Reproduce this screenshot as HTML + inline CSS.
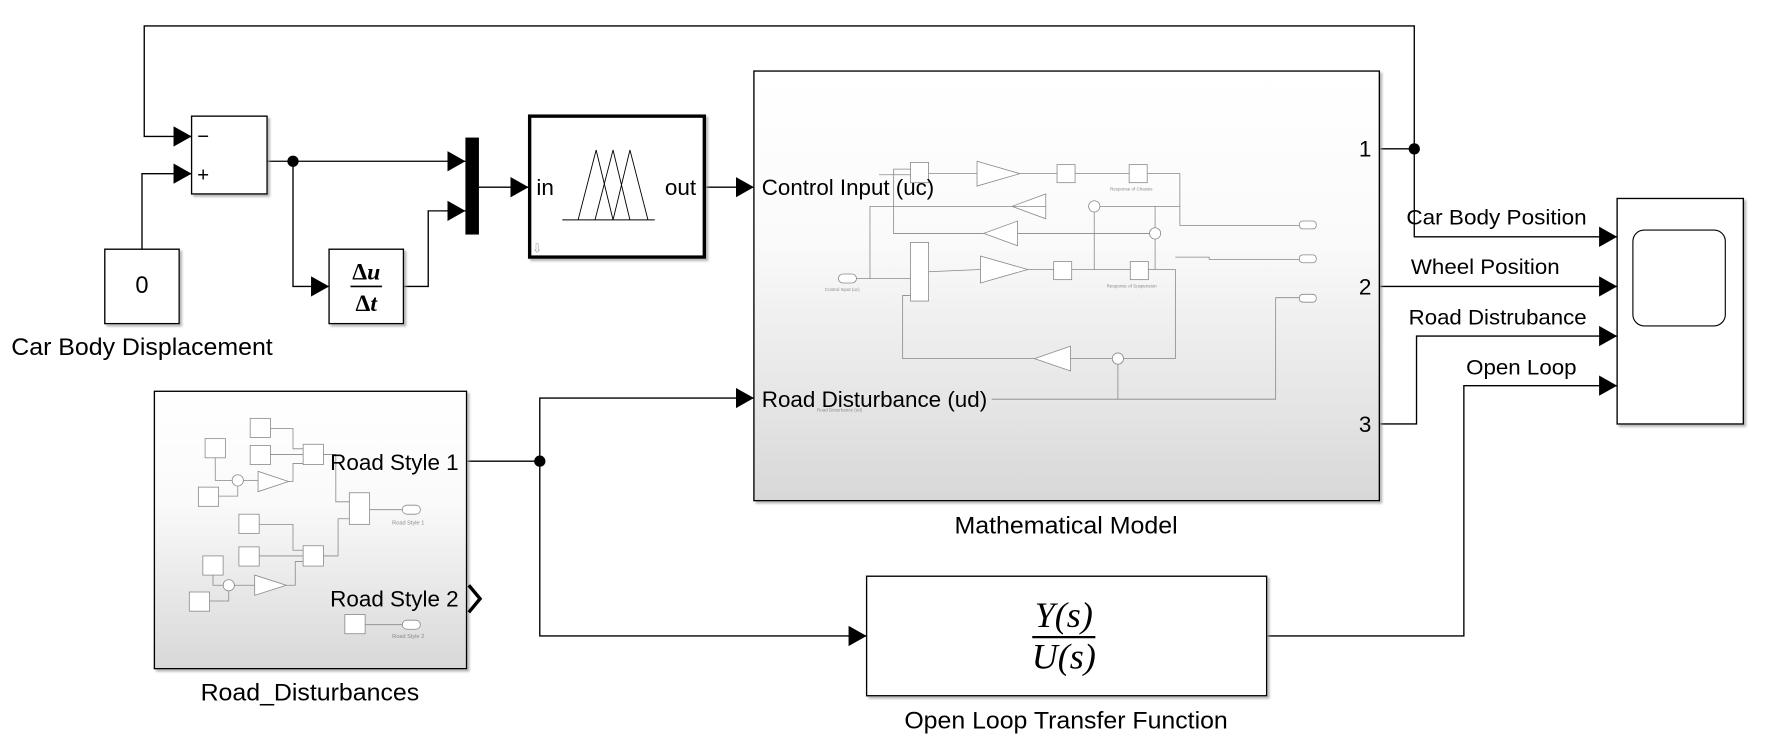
<!DOCTYPE html>
<html><head><meta charset="utf-8"><style>
html,body{margin:0;padding:0;background:#fff;}
svg{display:block;}
.s{font-family:"Liberation Sans",sans-serif;}
.r{font-family:"Liberation Serif",serif;}
</style></head><body>
<svg width="1767" height="751" viewBox="0 0 1568 666" preserveAspectRatio="none" xmlns="http://www.w3.org/2000/svg" class="s">
<defs>
<linearGradient id="g" x1="0" y1="0" x2="0" y2="1"><stop offset="0" stop-color="#fff"/><stop offset="0.4" stop-color="#fafafa"/><stop offset="1" stop-color="#d8d8d8"/></linearGradient>
<marker id="a" markerWidth="16" markerHeight="18" refX="16" refY="9" orient="auto" markerUnits="userSpaceOnUse" viewBox="0 0 16 18"><path d="M0,0 L16,9 L0,18z" fill="#000"/></marker>
<filter id="sh"><feDropShadow dx="2" dy="2" stdDeviation="1" flood-color="#999" flood-opacity="0.7"/></filter>
</defs>
<g fill="none" stroke="#000" stroke-width="1.2">
<polyline points="1255,132 1255,23 128,23 128,121 170,121" marker-end="url(#a)"/>
<polyline points="126,221 126,154 170,154" marker-end="url(#a)"/>
<polyline points="237,143 413,143" marker-end="url(#a)"/>
<polyline points="260,143 260,254 292,254" marker-end="url(#a)"/>
<polyline points="358,254 380,254 380,187 413,187" marker-end="url(#a)"/>
<polyline points="425,166 469,166" marker-end="url(#a)"/>
<polyline points="625,166 669,166" marker-end="url(#a)"/>
<polyline points="1224,132 1255,132 1255,210 1435,210" marker-end="url(#a)"/>
<polyline points="1224,254 1435,254" marker-end="url(#a)"/>
<polyline points="1224,376 1257,376 1257,298 1435,298" marker-end="url(#a)"/>
<polyline points="1124,564 1299,564 1299,342 1435,342" marker-end="url(#a)"/>
<polyline points="414,409 479,409 479,353 669,353" marker-end="url(#a)"/>
<polyline points="479,409 479,564 769,564" marker-end="url(#a)"/>
</g>
<circle cx="260" cy="143" r="5"/><circle cx="1255" cy="132" r="5"/><circle cx="479" cy="409" r="5"/>
<rect x="170" y="103" width="67" height="69" fill="#fff" stroke="#000" stroke-width="1.2" filter="url(#sh)"/>
<text x="175" y="127" font-size="18">−</text><text x="175" y="161" font-size="18">+</text>
<rect x="93" y="221" width="66" height="66" fill="#fff" stroke="#000" stroke-width="1.2" filter="url(#sh)"/>
<text x="126" y="260" font-size="21" text-anchor="middle">0</text>
<text x="126" y="315" font-size="21" text-anchor="middle" textLength="232" lengthAdjust="spacingAndGlyphs">Car Body Displacement</text>
<rect x="292" y="221" width="66" height="66" fill="#fff" stroke="#000" stroke-width="1.2" filter="url(#sh)"/>
<text class="r" x="325" y="248" font-size="21" text-anchor="middle" font-weight="bold">Δ<tspan font-style="italic">u</tspan></text>
<line x1="311" y1="254" x2="339" y2="254" stroke="#000" stroke-width="1.5"/>
<text class="r" x="325" y="276" font-size="21" text-anchor="middle" font-weight="bold">Δ<tspan font-style="italic">t</tspan></text>
<rect x="413" y="122" width="12" height="86" fill="#000"/>
<rect x="470" y="103" width="155" height="125" fill="#fff" stroke="#000" stroke-width="3" filter="url(#sh)"/>
<text x="476" y="173" font-size="20">in</text><text x="590" y="173" font-size="20">out</text>
<g fill="none" stroke="#000" stroke-width="0.8"><line x1="499" y1="195" x2="581" y2="195"/>
<polyline points="513,195 529,133 544,195"/><polyline points="528,195 544,133 559,195"/><polyline points="544,195 559,133 575,195"/></g>
<text x="472" y="224" font-size="11" fill="#aaa">⇩</text>
<rect x="669" y="63" width="555" height="381" fill="url(#g)" stroke="#000" stroke-width="1.2" filter="url(#sh)"/>
<g fill="#fff" stroke="#888" stroke-width="0.7">
<rect x="808" y="144" width="16" height="18"/><rect x="938" y="146" width="16" height="16"/><rect x="1002" y="146" width="16" height="16"/>
<polygon points="867,143 867,165 905,154"/><polygon points="928,172 928,194 898,183"/><polygon points="903,196 903,218 873,207"/>
<circle cx="971" cy="183" r="5"/><circle cx="1025" cy="207" r="5"/>
<rect x="808" y="215" width="16" height="52"/><polygon points="870,227 870,251 912,239"/><rect x="935" y="232" width="16" height="16"/><rect x="1003" y="232" width="16" height="16"/>
<polygon points="950,307 950,329 918,318"/><circle cx="992" cy="318" r="5"/>
<rect x="744" y="243" width="16" height="8" rx="4"/><rect x="1153" y="196" width="15" height="7" rx="3"/><rect x="1153" y="226" width="15" height="7" rx="3"/><rect x="1153" y="261" width="15" height="7" rx="3"/>
</g>
<g fill="none" stroke="#888" stroke-width="0.7">
<polyline points="824,154 867,154"/><polyline points="905,154 938,154"/><polyline points="954,154 1002,154"/><polyline points="1018,154 1047,154 1047,200 1153,200"/>
<polyline points="1047,183 976,183"/><polyline points="928,183 772,183 772,247"/><polyline points="1025,202 1025,183"/><polyline points="1020,207 903,207"/><polyline points="873,207 793,207 793,150 808,150"/>
<polyline points="824,241 870,239"/><polyline points="912,239 935,239"/><polyline points="951,239 1003,239"/><polyline points="1019,239 1043,239 1043,318 997,318"/>
<polyline points="987,318 950,318"/><polyline points="918,318 801,318 801,262 808,262"/><polyline points="1043,228 1073,228 1073,230 1153,230"/><polyline points="971,188 971,239"/><polyline points="1025,212 1025,239"/>
<polyline points="992,323 992,354"/><polyline points="880,354 1132,354 1132,264 1153,264"/><polyline points="760,247 808,247"/><polyline points="780,155 808,155"/>
</g>
<g font-size="4" fill="#888"><text x="732" y="258">Control Input (uc)</text><text x="985" y="169">Response of Chassis</text><text x="982" y="255">Response of Suspension</text><text x="725" y="365">Road Disturbance (ud)</text></g>
<text x="676" y="173" font-size="20" textLength="153" lengthAdjust="spacingAndGlyphs">Control Input (uc)</text>
<text x="676" y="361" font-size="20" textLength="200" lengthAdjust="spacingAndGlyphs">Road Disturbance (ud)</text>
<text x="1217" y="139" font-size="20" text-anchor="end">1</text>
<text x="1217" y="261" font-size="20" text-anchor="end">2</text>
<text x="1217" y="383" font-size="20" text-anchor="end">3</text>
<text x="946" y="473" font-size="21" text-anchor="middle" textLength="198" lengthAdjust="spacingAndGlyphs">Mathematical Model</text>
<rect x="1435" y="176" width="112" height="200" fill="#fff" stroke="#000" stroke-width="1.2" filter="url(#sh)"/>
<rect x="1449" y="204" width="82" height="85" rx="10" fill="#fff" stroke="#000" stroke-width="1"/>
<g font-size="19"><text x="1248" y="199" textLength="160" lengthAdjust="spacingAndGlyphs">Car Body Position</text><text x="1252" y="243" textLength="132" lengthAdjust="spacingAndGlyphs">Wheel Position</text><text x="1250" y="288" textLength="158" lengthAdjust="spacingAndGlyphs">Road Distrubance</text><text x="1301" y="332" textLength="98" lengthAdjust="spacingAndGlyphs">Open Loop</text></g>
<rect x="137" y="347" width="277" height="246" fill="url(#g)" stroke="#000" stroke-width="1.2" filter="url(#sh)"/>
<g fill="#fff" stroke="#888" stroke-width="0.7">
<rect x="182" y="389" width="18" height="17"/><rect x="222" y="371" width="18" height="17"/><rect x="222" y="395" width="18" height="17"/><rect x="269" y="394" width="18" height="18"/>
<rect x="176" y="432" width="18" height="17"/><circle cx="211" cy="426" r="5"/><polygon points="229,418 229,436 256,427"/><rect x="310" y="437" width="18" height="28"/>
<rect x="212" y="456" width="18" height="17"/><rect x="212" y="485" width="18" height="17"/><rect x="269" y="484" width="18" height="18"/>
<rect x="180" y="493" width="18" height="17"/><rect x="168" y="525" width="18" height="17"/><circle cx="203" cy="519" r="5"/><polygon points="226,510 226,528 254,519"/>
<rect x="306" y="545" width="18" height="17"/><rect x="357" y="448" width="16" height="8" rx="4"/><rect x="357" y="550" width="16" height="8" rx="4"/>
</g>
<g fill="none" stroke="#888" stroke-width="0.7"><polyline points="191,406 191,426 206,426"/><polyline points="194,440 211,440 211,431"/><polyline points="216,426 229,426"/><polyline points="256,427 260,427 260,411 269,411"/>
<polyline points="240,380 260,380 260,398 269,398"/><polyline points="240,403 269,403"/><polyline points="287,403 298,403 298,445 310,445"/><polyline points="328,452 357,452"/>
<polyline points="230,465 260,465 260,488 269,488"/><polyline points="230,493 269,493"/><polyline points="287,493 300,493 300,460 310,460"/><polyline points="189,510 189,519 198,519"/><polyline points="186,533 203,533 203,524"/><polyline points="208,519 226,519"/><polyline points="254,519 262,519 262,498 269,498"/><polyline points="324,554 357,554"/></g>
<g font-size="5" fill="#888"><text x="348" y="465">Road Style 1</text><text x="348" y="566">Road Style 2</text></g>
<text x="407" y="417" font-size="20" text-anchor="end" textLength="114" lengthAdjust="spacingAndGlyphs">Road Style 1</text>
<text x="407" y="538" font-size="20" text-anchor="end" textLength="114" lengthAdjust="spacingAndGlyphs">Road Style 2</text>
<polyline points="416,519 426,531 416,543" fill="none" stroke="#000" stroke-width="3"/>
<text x="275" y="621" font-size="21" text-anchor="middle" textLength="194" lengthAdjust="spacingAndGlyphs">Road_Disturbances</text>
<rect x="769" y="511" width="355" height="106" fill="#fff" stroke="#000" stroke-width="1.2" filter="url(#sh)"/>
<text class="r" x="944" y="556" font-size="32" text-anchor="middle" font-style="italic">Y(s)</text>
<line x1="916" y1="565" x2="972" y2="565" stroke="#000" stroke-width="2"/>
<text class="r" x="944" y="593" font-size="32" text-anchor="middle" font-style="italic">U(s)</text>
<text x="946" y="646" font-size="21" text-anchor="middle" textLength="287" lengthAdjust="spacingAndGlyphs">Open Loop Transfer Function</text>
</svg>
</body></html>
